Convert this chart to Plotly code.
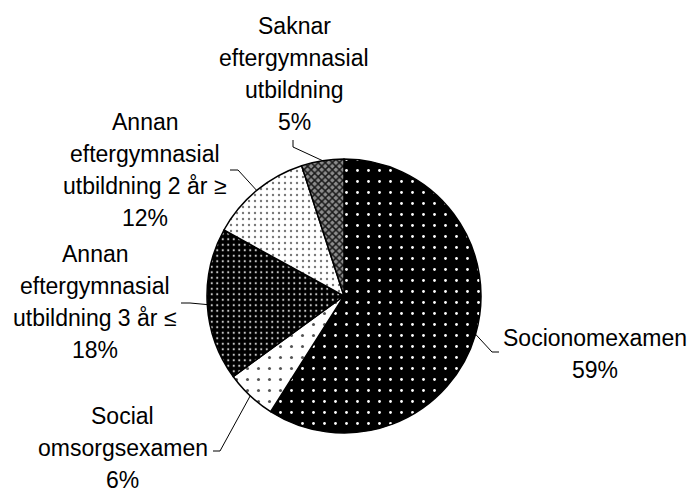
import math
import plotly.graph_objects as go

# ---------------- data ----------------
categories = [
    "Socionomexamen",
    "Social omsorgsexamen",
    "Annan eftergymnasial utbildning 3 år ≤",
    "Annan eftergymnasial utbildning 2 år ≥",
    "Saknar eftergymnasial utbildning",
]
label_lines = [
    ["Socionomexamen"],
    ["Social", "omsorgsexamen"],
    ["Annan", "eftergymnasial", "utbildning 3 år ≤"],
    ["Annan", "eftergymnasial", "utbildning 2 år ≥"],
    ["Saknar", "eftergymnasial", "utbildning"],
]
values = [59, 6, 18, 12, 5]

# ---------------- layout / style ----------------
W, H = 691, 488
CX, CY, R = 344, 296, 137          # pie centre and radius in px
FONT = "Liberation Sans, Arial, sans-serif"
FS = 23
LINE_H = 31.7

# label block centres (px) and leader-line elbow / end points (px)
label_pos = [(595, 354), (123, 448), (95, 302), (145, 170), (294, 74)]
leader_mid = [(492, 352), (220, 451), (190, 303), (238, 170), (293, 147)]
leader_end = [(499, 352), (213, 451), (181, 303), (230, 170), (293, 140)]

pattern_shape = [".", ".", ".", ".", "x"]
pattern_fg = ["#ffffff", "#555555", "#c8c8c8", "#777777", "#1a1a1a"]
pattern_bg = ["#000000", "#ffffff", "#000000", "#ffffff", "#8c8c8c"]
pattern_size = [11, 11, 5.5, 6, 5]
pattern_solid = [0.05, 0.06, 0.12, 0.12, 0.5]

fig = go.Figure(
    go.Pie(
        labels=categories,
        values=values,
        sort=False,
        direction="clockwise",
        rotation=0,
        textinfo="none",
        hoverinfo="skip",
        showlegend=False,
        marker=dict(
            colors=pattern_bg,
            line=dict(color="#000000", width=1.5),
            pattern=dict(
                shape=pattern_shape,
                fgcolor=pattern_fg,
                bgcolor=pattern_bg,
                size=pattern_size,
                solidity=pattern_solid,
                fillmode="replace",
            ),
        ),
        domain=dict(x=[(CX - R) / W, (CX + R) / W], y=[1 - (CY + R) / H, 1 - (CY - R) / H]),
    )
)

total = sum(values)
cum = 0
annotations = []
shapes = []
for i, v in enumerate(values):
    mid = (cum + v / 2) / total * 2 * math.pi
    cum += v
    ex = CX + R * math.sin(mid)
    ey = CY - R * math.cos(mid)
    pct = f"{round(100 * v / total)}%"
    lines = label_lines[i] + [pct]
    bx, by = label_pos[i]
    n = len(lines)
    for k, t in enumerate(lines):
        ly = by + (k - (n - 1) / 2) * LINE_H
        annotations.append(
            dict(
                text=t, x=bx / W, y=1 - ly / H, xref="paper", yref="paper",
                xanchor="center", yanchor="middle", showarrow=False,
                font=dict(family=FONT, size=FS, color="#000000"),
            )
        )
    mx, my = leader_mid[i]
    tx, ty = leader_end[i]
    shapes.append(
        dict(
            type="path", xref="paper", yref="paper",
            path=f"M {ex / W} {1 - ey / H} L {mx / W} {1 - my / H} L {tx / W} {1 - ty / H}",
            line=dict(color="#000000", width=1),
        )
    )

fig.update_layout(
    width=W, height=H,
    margin=dict(l=0, r=0, t=0, b=0),
    paper_bgcolor="#ffffff",
    plot_bgcolor="#ffffff",
    annotations=annotations,
    shapes=shapes,
    font=dict(family=FONT),
)

fig.write_html(
    "out.html",
    config={"displayModeBar": False},
    post_script="document.body.style.margin='0';document.body.style.overflow='hidden';",
)
